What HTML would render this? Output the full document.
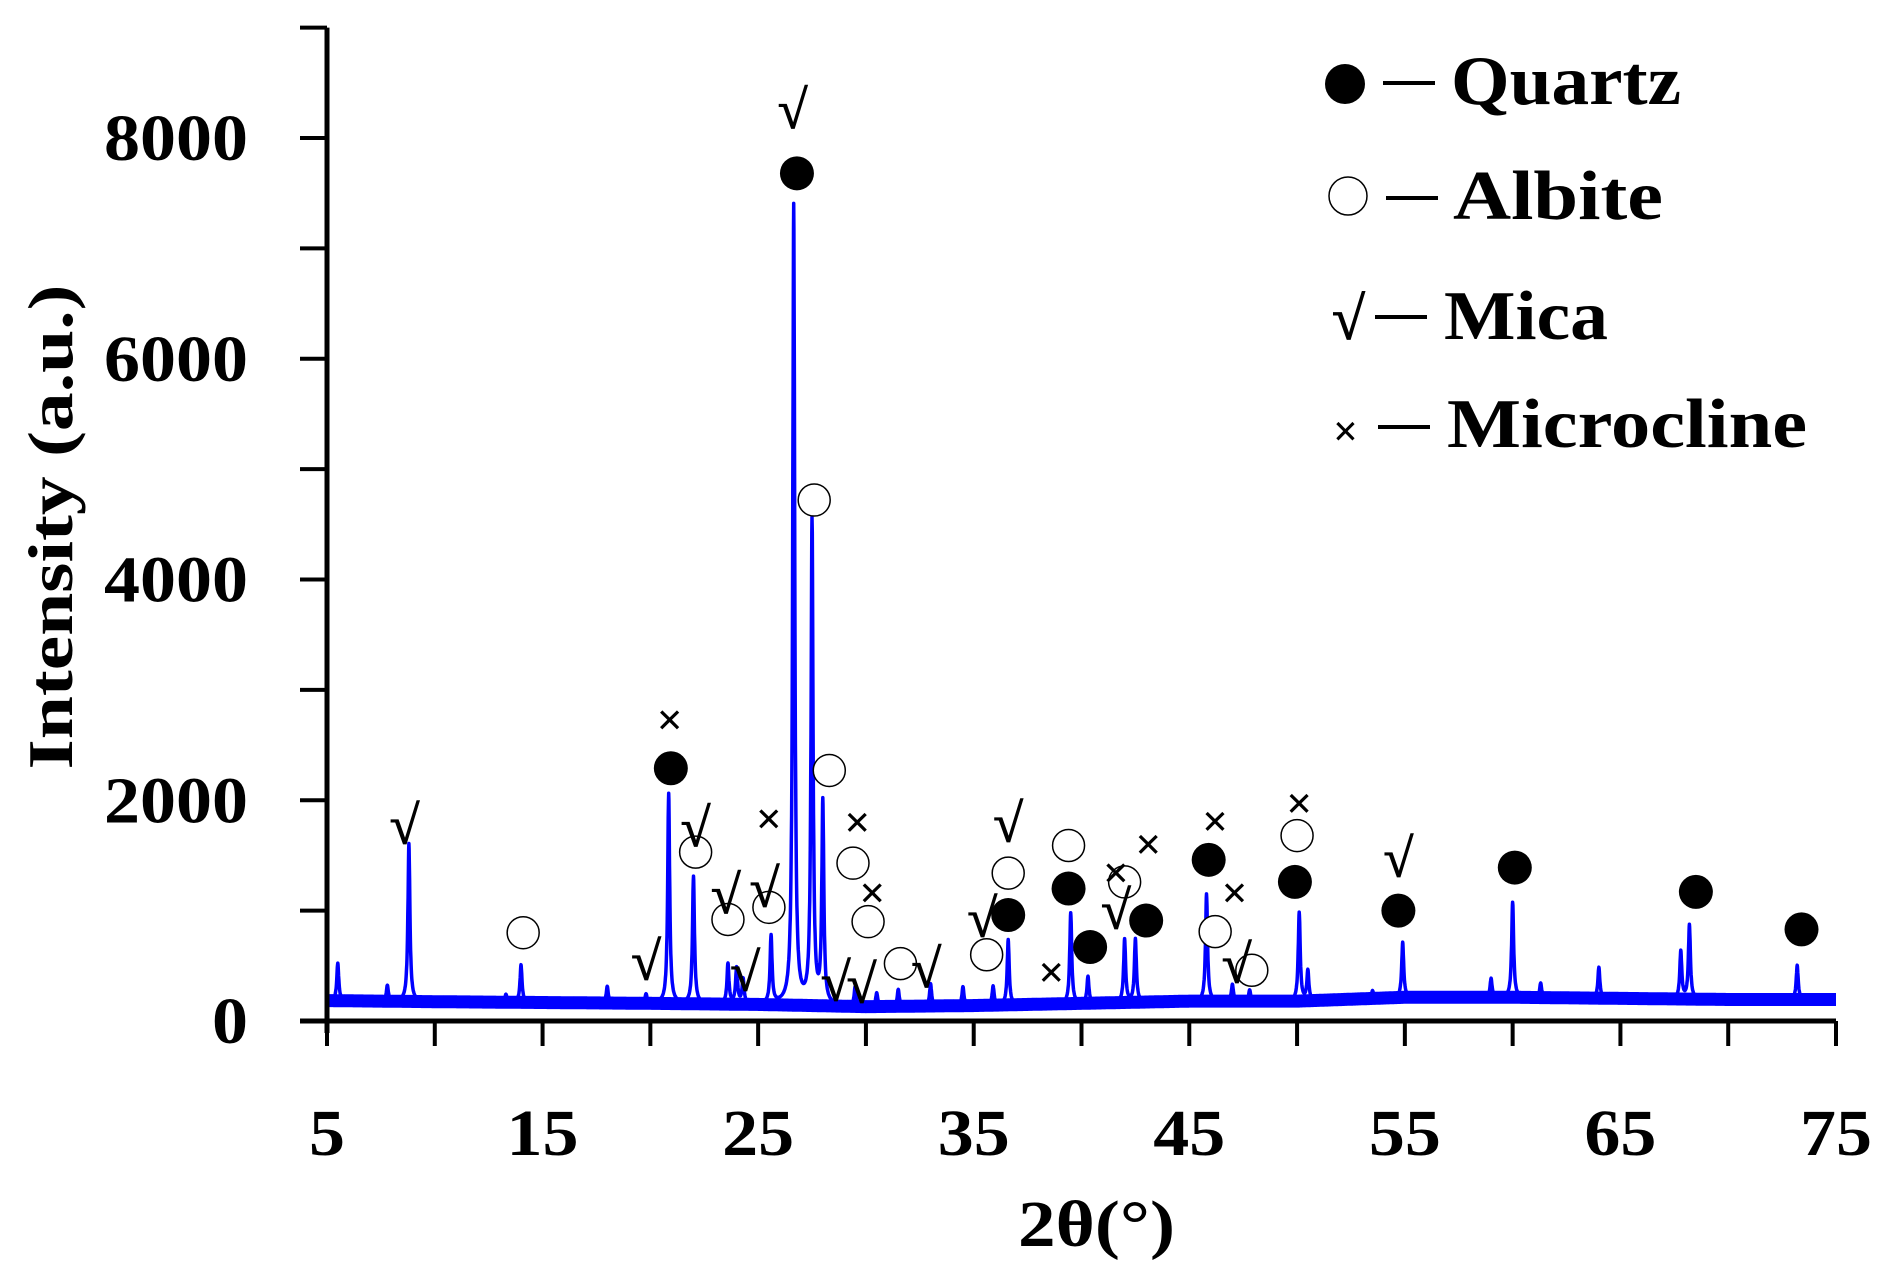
<!DOCTYPE html>
<html><head><meta charset="utf-8"><style>
html,body{margin:0;padding:0;background:#fff}
svg{display:block}
text{font-family:"Liberation Serif",serif;font-weight:bold;fill:#000}
</style></head><body>
<svg id="chart" width="1890" height="1266" viewBox="0 0 1890 1266" xmlns="http://www.w3.org/2000/svg">
<g id="plot"></g>
<g id="axes"></g>
<g id="annot"></g>
<text transform="translate(72,527) rotate(-90)" text-anchor="middle" font-size="64" textLength="485" lengthAdjust="spacingAndGlyphs">Intensity (a.u.)</text>
<text x="1018" y="1246" font-size="66" textLength="157" lengthAdjust="spacingAndGlyphs">2θ(°)</text>
<g>
  <circle cx="1345" cy="84" r="20" fill="#000"/>
  <rect x="1383" y="81" width="52" height="4" fill="#000"/>
  <text x="1451" y="104" font-size="70" textLength="230" lengthAdjust="spacingAndGlyphs">Quartz</text>
  <circle cx="1348" cy="196" r="19" fill="#fff" stroke="#000" stroke-width="1.5"/>
  <rect x="1386" y="196" width="52" height="4" fill="#000"/>
  <text x="1453" y="219" font-size="70" textLength="210" lengthAdjust="spacingAndGlyphs">Albite</text>
  <text x="1332" y="339" font-size="60" font-weight="normal" stroke="#000" stroke-width="1">√</text>
  <rect x="1375" y="315" width="52" height="4" fill="#000"/>
  <text x="1444" y="339" font-size="70" textLength="164" lengthAdjust="spacingAndGlyphs">Mica</text>
  <text x="1333" y="446" font-size="44" font-weight="normal">×</text>
  <rect x="1378" y="425" width="52" height="4" fill="#000"/>
  <text x="1447" y="447" font-size="70" textLength="360" lengthAdjust="spacingAndGlyphs">Microcline</text>
</g>
</svg>
<script>
const xTicks = [5,10,15,20,25,30,35,40,45,50,55,60,65,70,75];
const xTickLabels = ["5","15","25","35","45","55","65","75"];
const yTicks = [0,1000,2000,3000,4000,5000,6000,7000,8000,9000];
const yTickLabels = ["0","2000","4000","6000","8000"];
const peakPos = [5.5,7.8,8.8,13.3,14.0,18.0,19.8,20.85,22.0,23.6,24.0,24.3,25.6,26.65,27.5,28.0,29.5,30.5,31.5,33.0,34.5,35.9,36.6,39.5,40.3,42.0,42.5,45.8,47.0,47.8,50.1,50.5,53.5,54.9,59.0,60.0,61.3,64.0,67.8,68.2,73.2];
const peakHeight = [340,140,1430,70,340,150,80,1900,1150,360,320,220,610,7240,4370,1820,170,120,150,200,170,170,590,820,240,570,570,970,150,100,800,270,70,500,170,860,130,280,430,670,310];
const baseX = [5,10,20,25,30,35,40,45,50,55,60,65,70,75];
const baseY = [185,175,160,150,130,140,160,180,180,215,215,205,195,195];
const quartzPts = [[20.95,2290],[26.8,7680],[36.6,960],[39.4,1200],[40.4,670],[43.0,910],[45.9,1460],[49.9,1260],[54.7,1000],[60.1,1390],[68.5,1170],[73.4,830]];
const albitePts = [[14.1,800],[22.1,1530],[23.6,920],[25.5,1030],[27.6,4720],[28.3,2270],[29.4,1430],[30.1,900],[31.6,520],[35.6,600],[36.6,1340],[39.4,1590],[42.0,1260],[46.2,810],[47.9,460],[50.0,1680]];
const micaPts = [[8.6,1680],[19.8,450],[22.1,1660],[23.5,1050],[25.3,1110],[24.4,350],[26.6,8165],[28.6,260],[29.8,240],[32.8,380],[35.4,840],[36.6,1700],[41.6,910],[47.2,420],[54.7,1380]];
const microPts = [[20.9,2720],[25.5,1820],[29.6,1790],[30.3,1150],[38.6,430],[41.6,1330],[43.1,1590],[46.2,1800],[47.1,1150],[50.1,1960]];

const NS="http://www.w3.org/2000/svg";
const X0=327,X1=1836,Y0=1021,PPU=883/8000;
function xs(v){return X0+(v-5)*(X1-X0)/70;}
function ys(v){return Y0-v*PPU;}
function mk(tag,attrs,parent){const e=document.createElementNS(NS,tag);for(const k in attrs)e.setAttribute(k,attrs[k]);parent.appendChild(e);return e;}
function base(x){for(let i=0;i<baseX.length-1;i++){if(x<=baseX[i+1]){const t=(x-baseX[i])/(baseX[i+1]-baseX[i]);return baseY[i]+t*(baseY[i+1]-baseY[i]);}}return baseY[baseY.length-1];}

const plot=document.getElementById('plot');
let dBase="",dFull="";
for(let k=0;k<=7000;k++){
  const x=5+k*0.01;
  let b=base(x),v=b;
  for(let i=0;i<peakPos.length;i++){const w=0.07;const u=(x-peakPos[i])/w;v+=peakHeight[i]/(1+u*u*1.6);}
  if(k%4===0) dBase+=(dBase?"L":"M")+xs(x).toFixed(1)+","+ys(b).toFixed(1);
  dFull+=(dFull?"L":"M")+xs(x).toFixed(1)+","+ys(v).toFixed(1);
}
const bl=mk('path',{d:dBase,fill:"none",stroke:"#0000ff","stroke-width":13},plot);


const ln=mk('path',{d:dFull,fill:"none",stroke:"#0000ff","stroke-width":3.5,"stroke-linejoin":"round"},plot);



const axes=document.getElementById('axes');
const ya=mk('line',{x1:X0,y1:ys(9000),x2:X0,y2:Y0+12,stroke:"#000","stroke-width":5},axes);


const xa=mk('line',{x1:X0-27,y1:Y0,x2:X1,y2:Y0,stroke:"#000","stroke-width":5},axes);


yTicks.forEach(v=>{
  const t=mk('line',{x1:X0-27,y1:ys(v),x2:X0,y2:ys(v),stroke:"#000","stroke-width":4},axes);
  
  
});
yTickLabels.forEach(s=>{
  const w=36*s.length;
  const t=mk('text',{x:248-w,y:ys(+s)+22,"font-size":66,textLength:w,lengthAdjust:"spacingAndGlyphs"},axes);
  t.textContent=s;
  
  
});
xTicks.forEach(v=>{
  const t=mk('line',{x1:xs(v),y1:Y0,x2:xs(v),y2:Y0+25,stroke:"#000","stroke-width":4},axes);
  
  
});
xTickLabels.forEach(s=>{
  const w=36*s.length;
  const t=mk('text',{x:xs(+s)-w/2,y:1155,"font-size":66,textLength:w,lengthAdjust:"spacingAndGlyphs"},axes);
  t.textContent=s;
  
  
});

const an=document.getElementById('annot');
quartzPts.forEach(p=>{
  const c=mk('circle',{cx:xs(p[0]),cy:ys(p[1]),r:17,fill:"#000"},an);
  
  
});
albitePts.forEach(p=>{
  const c=mk('circle',{cx:xs(p[0]),cy:ys(p[1]),r:16,fill:"#fff",stroke:"#000","stroke-width":1.5},an);
  
  
});
micaPts.forEach(p=>{
  const t=mk('text',{x:xs(p[0]),y:ys(p[1])+8,"text-anchor":"middle","font-size":54,"font-weight":"normal",stroke:"#000","stroke-width":1},an);
  t.textContent="√";
  
  
});
microPts.forEach(p=>{
  const t=mk('text',{x:xs(p[0]),y:ys(p[1])+14,"text-anchor":"middle","font-size":46,"font-weight":"normal"},an);
  t.textContent="×";
  
  
});
</script>
</body></html>
